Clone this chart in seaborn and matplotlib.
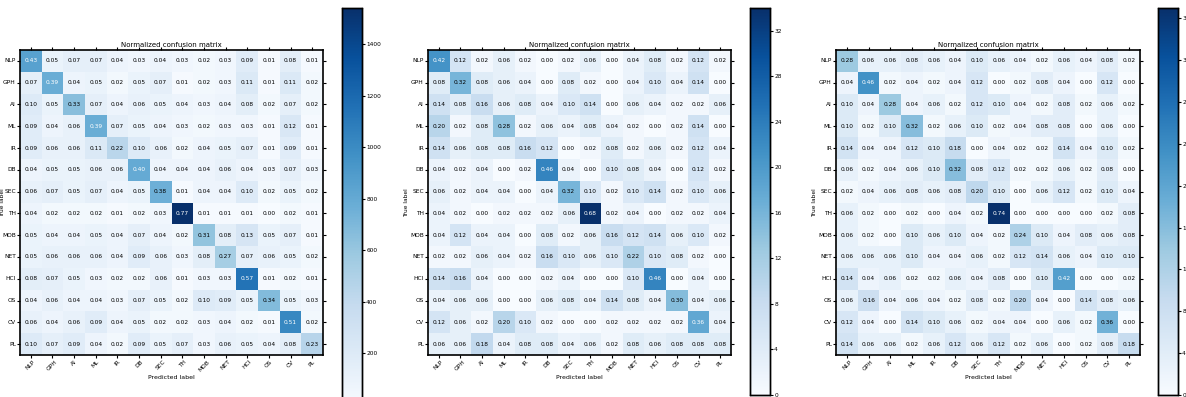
import numpy as np
import matplotlib
matplotlib.use("Agg")
import matplotlib.pyplot as plt
import seaborn as sns

labels = ["NLP", "GPH", "AI", "ML", "IR", "DB", "SEC", "TH", "MOB", "NET", "HCI", "OS", "CV", "PL"]

# normalized confusion matrices (rows = true label)
cm_a = [
    [0.43, 0.05, 0.07, 0.07, 0.04, 0.03, 0.04, 0.03, 0.02, 0.03, 0.09, 0.01, 0.08, 0.01],
    [0.07, 0.39, 0.04, 0.05, 0.02, 0.05, 0.07, 0.01, 0.02, 0.03, 0.11, 0.01, 0.11, 0.02],
    [0.10, 0.05, 0.33, 0.07, 0.04, 0.06, 0.05, 0.04, 0.03, 0.04, 0.08, 0.02, 0.07, 0.02],
    [0.09, 0.04, 0.06, 0.39, 0.07, 0.05, 0.04, 0.03, 0.02, 0.03, 0.03, 0.01, 0.12, 0.01],
    [0.09, 0.06, 0.06, 0.11, 0.22, 0.10, 0.06, 0.02, 0.04, 0.05, 0.07, 0.01, 0.09, 0.01],
    [0.04, 0.05, 0.05, 0.06, 0.06, 0.40, 0.04, 0.04, 0.04, 0.06, 0.04, 0.03, 0.07, 0.03],
    [0.06, 0.07, 0.05, 0.07, 0.04, 0.05, 0.38, 0.01, 0.04, 0.04, 0.10, 0.02, 0.05, 0.02],
    [0.04, 0.02, 0.02, 0.02, 0.01, 0.02, 0.03, 0.77, 0.01, 0.01, 0.01, 0.00, 0.02, 0.01],
    [0.05, 0.04, 0.04, 0.05, 0.04, 0.07, 0.04, 0.02, 0.31, 0.08, 0.13, 0.05, 0.07, 0.01],
    [0.05, 0.06, 0.06, 0.06, 0.04, 0.09, 0.06, 0.03, 0.08, 0.27, 0.07, 0.06, 0.05, 0.02],
    [0.08, 0.07, 0.05, 0.03, 0.02, 0.02, 0.06, 0.01, 0.03, 0.03, 0.57, 0.01, 0.02, 0.01],
    [0.04, 0.06, 0.04, 0.04, 0.03, 0.07, 0.05, 0.02, 0.10, 0.09, 0.05, 0.34, 0.05, 0.03],
    [0.06, 0.04, 0.06, 0.09, 0.04, 0.05, 0.02, 0.02, 0.03, 0.04, 0.02, 0.01, 0.51, 0.02],
    [0.10, 0.07, 0.09, 0.04, 0.02, 0.09, 0.05, 0.07, 0.03, 0.06, 0.05, 0.04, 0.08, 0.23],
]

cm_b = [
    [0.42, 0.12, 0.02, 0.06, 0.02, 0.00, 0.02, 0.06, 0.00, 0.04, 0.08, 0.02, 0.12, 0.02],
    [0.08, 0.32, 0.08, 0.06, 0.04, 0.00, 0.08, 0.02, 0.00, 0.04, 0.10, 0.04, 0.14, 0.00],
    [0.14, 0.08, 0.16, 0.06, 0.08, 0.04, 0.10, 0.14, 0.00, 0.06, 0.04, 0.02, 0.02, 0.06],
    [0.20, 0.02, 0.08, 0.28, 0.02, 0.06, 0.04, 0.08, 0.04, 0.02, 0.00, 0.02, 0.14, 0.00],
    [0.14, 0.06, 0.08, 0.08, 0.16, 0.12, 0.00, 0.02, 0.08, 0.02, 0.06, 0.02, 0.12, 0.04],
    [0.04, 0.02, 0.04, 0.00, 0.02, 0.46, 0.04, 0.00, 0.10, 0.08, 0.04, 0.00, 0.12, 0.02],
    [0.06, 0.02, 0.04, 0.04, 0.00, 0.04, 0.32, 0.10, 0.02, 0.10, 0.14, 0.02, 0.10, 0.06],
    [0.04, 0.02, 0.00, 0.02, 0.02, 0.02, 0.06, 0.68, 0.02, 0.04, 0.00, 0.02, 0.02, 0.04],
    [0.04, 0.12, 0.04, 0.04, 0.00, 0.08, 0.02, 0.06, 0.16, 0.12, 0.14, 0.06, 0.10, 0.02],
    [0.02, 0.02, 0.06, 0.04, 0.02, 0.16, 0.10, 0.06, 0.10, 0.22, 0.10, 0.08, 0.02, 0.00],
    [0.14, 0.16, 0.04, 0.00, 0.00, 0.02, 0.04, 0.00, 0.00, 0.10, 0.46, 0.00, 0.04, 0.00],
    [0.04, 0.06, 0.06, 0.00, 0.00, 0.06, 0.08, 0.04, 0.14, 0.08, 0.04, 0.30, 0.04, 0.06],
    [0.12, 0.06, 0.02, 0.20, 0.10, 0.02, 0.00, 0.00, 0.02, 0.02, 0.02, 0.02, 0.36, 0.04],
    [0.06, 0.06, 0.18, 0.04, 0.08, 0.08, 0.04, 0.06, 0.02, 0.08, 0.06, 0.08, 0.08, 0.08],
]

cm_c = [
    [0.28, 0.06, 0.06, 0.08, 0.06, 0.04, 0.10, 0.06, 0.04, 0.02, 0.06, 0.04, 0.08, 0.02],
    [0.04, 0.46, 0.02, 0.04, 0.02, 0.04, 0.12, 0.00, 0.02, 0.08, 0.04, 0.00, 0.12, 0.00],
    [0.10, 0.04, 0.28, 0.04, 0.06, 0.02, 0.12, 0.10, 0.04, 0.02, 0.08, 0.02, 0.06, 0.02],
    [0.10, 0.02, 0.10, 0.32, 0.02, 0.06, 0.10, 0.02, 0.04, 0.08, 0.08, 0.00, 0.06, 0.00],
    [0.14, 0.04, 0.04, 0.12, 0.10, 0.18, 0.00, 0.04, 0.02, 0.02, 0.14, 0.04, 0.10, 0.02],
    [0.06, 0.02, 0.04, 0.06, 0.10, 0.32, 0.08, 0.12, 0.02, 0.02, 0.06, 0.02, 0.08, 0.00],
    [0.02, 0.04, 0.06, 0.08, 0.06, 0.08, 0.20, 0.10, 0.00, 0.06, 0.12, 0.02, 0.10, 0.04],
    [0.06, 0.02, 0.00, 0.02, 0.00, 0.04, 0.02, 0.74, 0.00, 0.00, 0.00, 0.00, 0.02, 0.08],
    [0.06, 0.02, 0.00, 0.10, 0.06, 0.10, 0.04, 0.02, 0.24, 0.10, 0.04, 0.08, 0.06, 0.08],
    [0.06, 0.06, 0.06, 0.10, 0.04, 0.04, 0.06, 0.02, 0.12, 0.14, 0.06, 0.04, 0.10, 0.10],
    [0.14, 0.04, 0.06, 0.02, 0.02, 0.06, 0.04, 0.08, 0.00, 0.10, 0.42, 0.00, 0.00, 0.02],
    [0.06, 0.16, 0.04, 0.06, 0.04, 0.02, 0.08, 0.02, 0.20, 0.04, 0.00, 0.14, 0.08, 0.06],
    [0.12, 0.04, 0.00, 0.14, 0.10, 0.06, 0.02, 0.04, 0.04, 0.00, 0.06, 0.02, 0.36, 0.00],
    [0.14, 0.06, 0.06, 0.02, 0.06, 0.12, 0.06, 0.12, 0.02, 0.06, 0.00, 0.02, 0.08, 0.18],
]

# samples per true class (colour shows raw counts)
support_a = 2000
support_b = 50
support_c = 50
cbar_steps = [200, 4, 4]
cbar_first = [200, 0, 0]

fig = plt.figure(figsize=(11.86, 3.97), dpi=100)
W, H = 1186.0, 397.0

# pixel boxes: (left, right, top, bottom)
ax_boxes = [(20, 323, 50, 355), (428, 731, 50, 355), (836, 1140, 50, 355)]
cax_boxes = [(342, 362, 8, 405), (750, 770, 8, 395), (1158, 1178, 8, 395)]

matrices = [cm_a, cm_b, cm_c]
supports = [support_a, support_b, support_c]

for cm, sup, step, first, (l, r, t, b), (cl, cr, ct, cb) in zip(
        matrices, supports, cbar_steps, cbar_first, ax_boxes, cax_boxes):
    norm = np.array(cm)
    counts = norm * sup
    ax = fig.add_axes([l / W, 1 - b / H, (r - l) / W, (b - t) / H])
    cax = fig.add_axes([cl / W, 1 - cb / H, (cr - cl) / W, (cb - ct) / H])
    sns.heatmap(counts, ax=ax, cbar_ax=cax, cmap="Blues", annot=norm, fmt=".2f",
                annot_kws={"fontsize": 4.2}, xticklabels=labels, yticklabels=labels)
    thresh = norm.max() / 2
    for txt, v in zip(ax.texts, norm.flat):
        txt.set_color("white" if v > thresh else "black")
    for sp in ax.spines.values():
        sp.set_visible(True)
        sp.set_linewidth(1.2)
        sp.set_color("black")
    ax.tick_params(top=True, right=True, length=2, width=0.8, labelsize=4.2, pad=1)
    ax.set_xticklabels(labels, rotation=45, fontsize=4.2)
    ax.set_yticklabels(labels, rotation=0, fontsize=4.2)
    ax.set_title("Normalized confusion matrix", fontsize=5, pad=2)
    ax.set_xlabel("Predicted label", fontsize=4.5, labelpad=2)
    ax.set_ylabel("True label", fontsize=4.2, labelpad=1)
    cax.set_yticks(np.arange(first, counts.max() + 1e-9, step))
    cax.tick_params(labelsize=4.2, length=2, width=0.8, pad=1)
    for sp in cax.spines.values():
        sp.set_visible(True)
        sp.set_linewidth(1.0)

# keep the first panel's y label inside the canvas, as in the reference
fig.axes[0].yaxis.set_label_coords(-0.048, 0.5)

fig.savefig("out.png", dpi=100)
